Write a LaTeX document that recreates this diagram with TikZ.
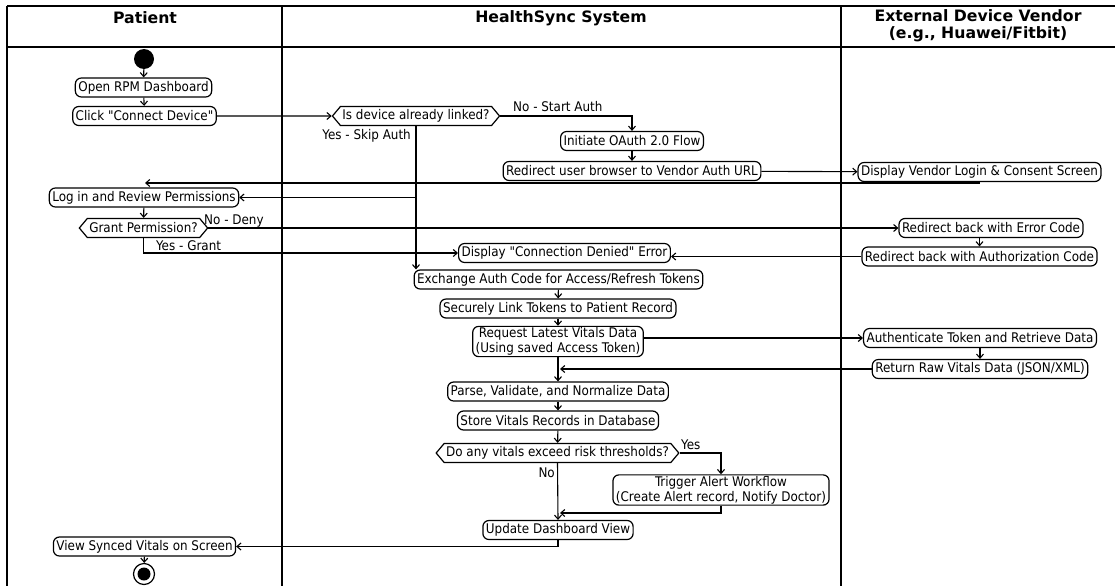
\documentclass[tikz,border=0pt]{standalone}
\usepackage{fontspec}
\setmainfont{DejaVu Sans Condensed}[Ligatures=TeXOff]
\newfontfamily\titlefont{DejaVu Sans}
\usetikzlibrary{shapes.symbols,arrows.meta}

\begin{document}
\begin{tikzpicture}[x=1pt,y=-1pt,
  every node/.style={font=\fontsize{13.3}{15}\selectfont},
  act/.style={draw, line width=1.2pt, rounded corners=6pt, inner xsep=3pt,
    inner ysep=1.2pt, minimum height=19pt, align=center},
  dec/.style={draw, line width=1.2pt, shape=signal, signal to=west and east,
    signal pointer angle=100, inner xsep=2pt, inner ysep=1.2pt, minimum height=19pt},
  arr/.style={line width=1.1pt, -{Straight Barb[length=4pt,width=7pt]}},
  lane/.style={line width=1.6pt},
  lbl/.style={inner sep=1pt},
  title/.style={font=\titlefont\bfseries\fontsize{15.7}{17}\selectfont, align=center}
]
\useasboundingbox (0,0) rectangle (1115,586);

% swimlane frame
\draw[lane] (7,6) -- (1115,6);
\draw[lane] (7,47) -- (1115,47);
\draw[lane] (7,6) -- (7,586);
\draw[lane] (282,6) -- (282,586);
\draw[lane] (841,6) -- (841,586);

\node[title] (tpat) at (145,18) {Patient};
\node[title] (tsys) at (561,18) {HealthSync System};
\node[title] (tven) at (978,26) {External Device Vendor\\(e.g., Huawei/Fitbit)};

% activities
\node[circle, fill=black, minimum size=20pt, inner sep=0pt] (start) at (144,59) {};
\node[act] (open) at (143.5,87.5) {Open RPM Dashboard};
\node[act] (click) at (144.5,116) {Click "Connect Device"};
\node[dec] (linked) at (416,116) {Is device already linked?};
\node[act] (oauth) at (632,141) {Initiate OAuth 2.0 Flow};
\node[act] (redir) at (632,171) {Redirect user browser to Vendor Auth URL};
\node[act] (vlogin) at (979.5,172) {Display Vendor Login \& Consent Screen};
\node[act] (login) at (144,197.5) {Log in and Review Permissions};
\node[dec] (grant) at (143.5,228) {Grant Permission?};
\node[act] (errc) at (991,228) {Redirect back with Error Code};
\node[act] (authc) at (979.5,256.5) {Redirect back with Authorization Code};
\node[act] (denied) at (564.5,253) {Display "Connection Denied" Error};
\node[act] (exch) at (558.5,279.5) {Exchange Auth Code for Access/Refresh Tokens};
\node[act] (link) at (558,308.5) {Securely Link Tokens to Patient Record};
\node[act] (req) at (558,341.5) {Request Latest Vitals Data\\(Using saved Access Token)};
\node[act] (authtok) at (980,338) {Authenticate Token and Retrieve Data};
\node[act] (raw) at (980,369) {Return Raw Vitals Data (JSON/XML)};
\node[act] (parse) at (558,391.5) {Parse, Validate, and Normalize Data};
\node[act] (store) at (558,420.5) {Store Vitals Records in Database};
\node[dec] (risk) at (557.5,453) {Do any vitals exceed risk thresholds?};
\node[act] (alert) at (721,490) {Trigger Alert Workflow\\(Create Alert record, Notify Doctor)};
\node[act] (update) at (558,530) {Update Dashboard View};
\node[act] (view) at (144.5,546.5) {View Synced Vitals on Screen};
\node[circle, draw, line width=1.2pt, minimum size=21pt, inner sep=0pt] (end) at (144,574) {};
\node[circle, fill=black, minimum size=13pt, inner sep=0pt] (endin) at (end) {};

% free ends of connectors
\coordinate (back) at (145,183);
\coordinate (merge1) at (560,369);
\coordinate (merge2) at (560,513);

% connectors
\draw[arr] (start) -- (open);
\draw[arr] (open) -- (click);
\draw[arr] (click) -- (linked);
\draw[arr] (linked.east) -| (oauth.north);
\draw[arr] (linked.south) -- (linked.south |- exch.north);
\draw[arr] (linked.south |- login.east) -- (login.east);
\draw[arr] (oauth) -- (redir);
\draw[arr] (redir) -- (vlogin);
\draw[arr] (vlogin.south) |- (back);
\draw[arr] (login) -- (grant);
\draw[arr] (grant.east) -- (errc.west);
\draw[arr] (grant.south) |- (denied.west);
\draw[arr] (errc.south -| authc.north) -- (authc.north);
\draw[arr] (authc.west) -- (authc.west -| denied.east);
\draw[arr] (exch) -- (link);
\draw[arr] (link) -- (req);
\draw[arr] (req.east |- authtok.west) -- (authtok.west);
\draw[arr] (authtok) -- (raw);
\draw[arr] (raw.west) -- (merge1);
\draw[arr] (req) -- (parse);
\draw[arr] (parse) -- (store);
\draw[arr] (store) -- (risk);
\draw[arr] (risk.east) -| (alert.north);
\draw[arr] (risk.south) -- (update.north);
\draw[arr] (alert.south) |- (merge2);
\draw[arr] (update.south) |- (view.east);
\draw[arr] (view) -- (end);

% guard labels
\node[lbl, anchor=west] (gno1) at (512,107) {No - Start Auth};
\node[lbl, anchor=east] (gyes1) at (412,136) {Yes - Skip Auth};
\node[lbl, anchor=west] (gno2) at (203,221) {No - Deny};
\node[lbl, anchor=west] (gyes2) at (155,246) {Yes - Grant};
\node[lbl, anchor=west] (gyes3) at (680,445) {Yes};
\node[lbl, anchor=east] (gno3) at (556,473) {No};
\end{tikzpicture}
\end{document}
